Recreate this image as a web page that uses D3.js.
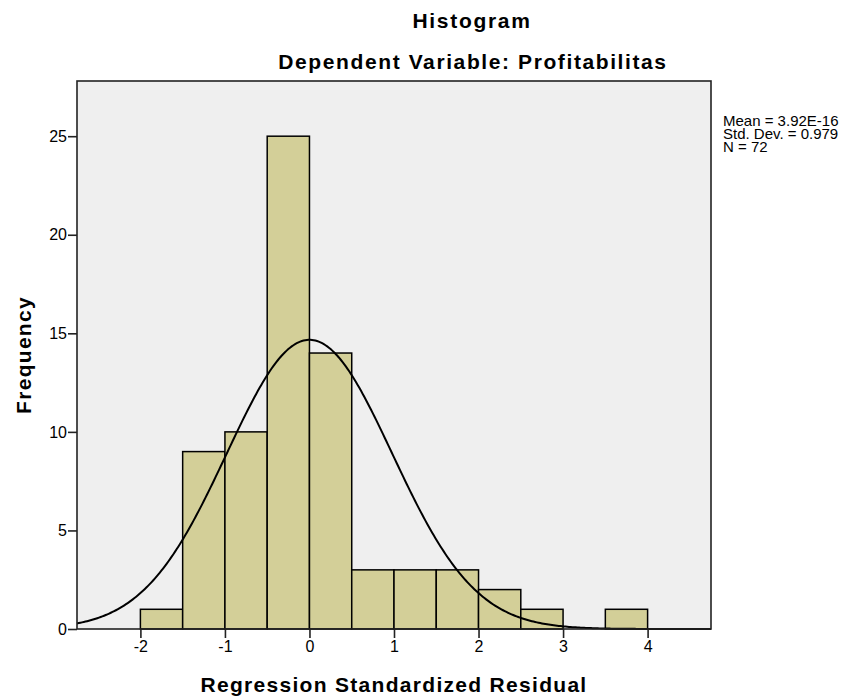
<!DOCTYPE html>
<html>
<head>
<meta charset="utf-8">
<title>Histogram</title>
<script src="https://d3js.org/d3.v7.min.js"></script>
<style>
  body { margin: 0; background: #fff; }
  text { font-family: "Liberation Sans", Arial, sans-serif; fill: #000; }
</style>
</head>
<body>
<script>
// histogram bins (lower edge) and counts
var binStart = [-2, -1.5, -1, -0.5, 0, 0.5, 1, 1.5, 2, 2.5, 3.5];
var counts   = [1, 9, 10, 25, 14, 3, 3, 3, 2, 1, 1];
var binWidth = 0.5;
var xTicks = [-2, -1, 0, 1, 2, 3, 4];
var yTicks = [0, 5, 10, 15, 20, 25];
var mean = 3.92e-16, sd = 0.979, n = 72;
var statLines = ["Mean = 3.92E-16", "Std. Dev. = 0.979", "N = 72"];

var W = 854, H = 698;
var pL = 77, pT = 81, pR = 711, pB = 629;

var svg = d3.select("body").append("svg")
    .attr("width", W)
    .attr("height", H);

var x = d3.scaleLinear().domain([-2.75, 4.75]).range([pL, pR]);
var y = d3.scaleLinear().domain([0, 27.8]).range([pB, pT]);

// plot background
svg.append("rect")
    .attr("x", pL).attr("y", pT)
    .attr("width", pR - pL).attr("height", pB - pT)
    .attr("fill", "#efefef");

// bars
svg.selectAll("rect.bar")
    .data(counts)
    .enter()
    .append("rect")
    .attr("class", "bar")
    .attr("x", function (d, i) { return x(binStart[i]); })
    .attr("y", function (d) { return y(d); })
    .attr("width", function (d, i) { return x(binStart[i] + binWidth) - x(binStart[i]); })
    .attr("height", function (d) { return y(0) - y(d); })
    .attr("fill", "#d3cf98")
    .attr("stroke", "#000")
    .attr("stroke-width", 1.5);

// normal curve from the reported mean / sd / N
var pts = d3.range(-2.75, 4.7501, 0.02).map(function (v) {
    var z = (v - mean) / sd;
    return [v, n * binWidth * Math.exp(-0.5 * z * z) / (sd * Math.sqrt(2 * Math.PI))];
});
svg.append("path")
    .datum(pts)
    .attr("fill", "none")
    .attr("stroke", "#000")
    .attr("stroke-width", 2)
    .attr("d", d3.line()
        .x(function (d) { return x(d[0]); })
        .y(function (d) { return y(d[1]); }));

// frame
svg.append("rect")
    .attr("x", pL).attr("y", pT)
    .attr("width", pR - pL).attr("height", pB - pT)
    .attr("fill", "none")
    .attr("stroke", "#222")
    .attr("stroke-width", 1.6);

// axes
var xAxis = svg.append("g")
    .attr("transform", "translate(0," + pB + ")")
    .call(d3.axisBottom(x).tickValues(xTicks).tickSize(9).tickPadding(3).tickFormat(d3.format("d")));
var yAxis = svg.append("g")
    .attr("transform", "translate(" + pL + ",0)")
    .call(d3.axisLeft(y).tickValues(yTicks).tickSize(9).tickPadding(1));
[xAxis, yAxis].forEach(function (g) {
    g.select(".domain").remove();
    g.attr("font-size", 16).attr("font-family", "'Liberation Sans', Arial, sans-serif");
    g.selectAll("line").attr("stroke", "#222").attr("stroke-width", 1.6);
    g.selectAll("text").attr("fill", "#000");
});
xAxis.selectAll("text").text(function (d) { return d < 0 ? "-" + Math.abs(d) : d; });

// titles
svg.append("text")
    .attr("x", 472).attr("y", 28)
    .attr("text-anchor", "middle")
    .attr("font-size", 21).attr("font-weight", "bold")
    .attr("letter-spacing", 1.7)
    .text("Histogram");
svg.append("text")
    .attr("x", 473).attr("y", 69)
    .attr("text-anchor", "middle")
    .attr("font-size", 21).attr("font-weight", "bold")
    .attr("letter-spacing", 1.6)
    .text("Dependent Variable: Profitabilitas");

svg.append("text")
    .attr("x", (pL + pR) / 2).attr("y", 692)
    .attr("text-anchor", "middle")
    .attr("font-size", 21).attr("font-weight", "bold")
    .attr("letter-spacing", 1.3)
    .text("Regression Standardized Residual");

svg.append("text")
    .attr("transform", "translate(31," + ((pT + pB) / 2) + ") rotate(-90)")
    .attr("text-anchor", "middle")
    .attr("font-size", 21).attr("font-weight", "bold")
    .attr("letter-spacing", 1.3)
    .text("Frequency");

// stats text
svg.selectAll("text.stat")
    .data(statLines)
    .enter()
    .append("text")
    .attr("class", "stat")
    .attr("x", 723)
    .attr("y", function (d, i) { return 125.5 + i * 13.2; })
    .attr("font-size", 15)
    .text(function (d) { return d; });
</script>
</body>
</html>
